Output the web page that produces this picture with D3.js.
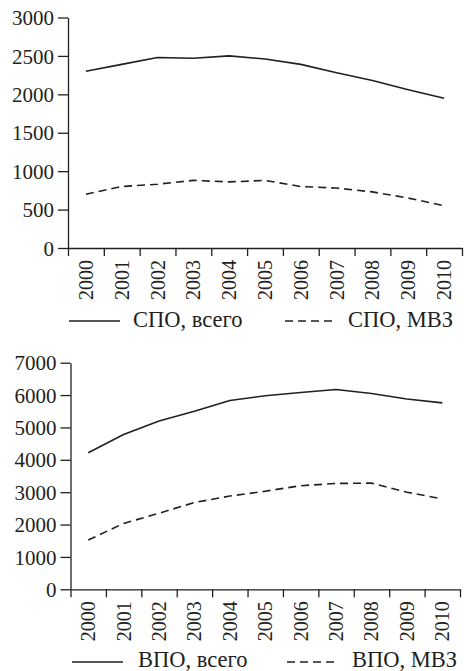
<!DOCTYPE html>
<html>
<head>
<meta charset="utf-8">
<script src="https://cdn.jsdelivr.net/npm/d3@7"></script>
<style>
body { margin: 0; background: #fff; }
</style>
</head>
<body>
<div id="chart"></div>
<script>
var width = 464
var height = 671

// data
var years = ["2000", "2001", "2002", "2003", "2004", "2005", "2006", "2007", "2008", "2009", "2010"]
var spoTotal = [2300, 2390, 2480, 2470, 2500, 2460, 2390, 2280, 2180, 2060, 1950]
var spoMvz = [700, 800, 830, 880, 860, 880, 800, 780, 730, 650, 550]
var vpoTotal = [4220, 4780, 5200, 5500, 5830, 5980, 6080, 6170, 6050, 5880, 5760]
var vpoMvz = [1520, 2035, 2350, 2680, 2880, 3030, 3200, 3270, 3280, 3000, 2790]
var spoTicks = [0, 500, 1000, 1500, 2000, 2500, 3000]
var vpoTicks = [0, 1000, 2000, 3000, 4000, 5000, 6000, 7000]

var ink = "#231f20"
var serif = "'Liberation Serif'"

var svg = d3.select("#chart")
    .append("svg")
    .attr("width", width)
    .attr("height", height)

function panel(opts) {
    var g = svg.append("g")

    var x = d3.scaleBand().domain(years).range([opts.x0, opts.x1])
    var xb = d3.scaleLinear().domain([0, years.length]).range([opts.x0, opts.x1])
    var y = d3.scaleLinear().domain([0, opts.ymax]).range([opts.y0, opts.y1])

    // y axis
    var ya = g.append("g")
        .attr("transform", "translate(" + opts.x0 + ",0)")
        .call(d3.axisLeft(y).tickValues(opts.ticks).tickFormat(d3.format("d")).tickSize(10).tickSizeOuter(0).tickPadding(4))
    ya.selectAll("text").style("font-size", "21px").style("font-family", serif).attr("fill", ink).attr("dy", "0.34em")

    // x axis: tick marks on band edges
    g.append("g")
        .attr("transform", "translate(0," + opts.y0 + ")")
        .call(d3.axisBottom(xb).tickValues(d3.range(years.length + 1)).tickSize(8).tickSizeOuter(0).tickFormat(""))

    // year labels in band centers
    g.selectAll(".yr")
        .data(years)
        .enter().append("text")
        .attr("transform", function(d) { return "translate(" + (x(d) + x.bandwidth() / 2) + "," + (opts.y0 + 12) + ") rotate(-90)" })
        .attr("text-anchor", "end")
        .attr("dy", "0.35em")
        .attr("fill", ink)
        .style("font-size", "20px")
        .style("font-family", serif)
        .text(function(d) { return d })

    svg.selectAll(".domain, .tick line").attr("stroke", ink).attr("stroke-width", 1.3)

    var line = d3.line()
        .x(function(d, i) { return x(years[i]) + x.bandwidth() / 2 })
        .y(function(d) { return y(d) })

    g.append("path").datum(opts.total)
        .attr("d", line).attr("fill", "none").attr("stroke", ink).attr("stroke-width", 1.6)
        .attr("stroke-linejoin", "round")
    g.append("path").datum(opts.mvz)
        .attr("d", line).attr("fill", "none").attr("stroke", ink).attr("stroke-width", 1.6)
        .attr("stroke-dasharray", "8,5")

    // legend
    var ly = opts.ly
    g.append("line").attr("x1", opts.lx[0]).attr("x2", opts.lx[0] + 51).attr("y1", ly).attr("y2", ly)
        .attr("stroke", ink).attr("stroke-width", 1.6)
    g.append("text").attr("x", opts.lx[1]).attr("y", opts.tb).attr("fill", ink)
        .style("font-size", "22.5px").style("font-family", serif).text(opts.names[0])
    g.append("line").attr("x1", opts.lx[2]).attr("x2", opts.lx[2] + 50).attr("y1", ly).attr("y2", ly)
        .attr("stroke", ink).attr("stroke-width", 1.6).attr("stroke-dasharray", "8,5")
    g.append("text").attr("x", opts.lx[3]).attr("y", opts.tb).attr("fill", ink)
        .style("font-size", "22.5px").style("font-family", serif).text(opts.names[1])
}

panel({
    x0: 68, x1: 462, y0: 248, y1: 17.5, ymax: 3000, ticks: spoTicks,
    total: spoTotal, mvz: spoMvz,
    ly: 321, tb: 327, lx: [69, 133, 285, 348], names: ["СПО, всего", "СПО, МВЗ"]
})

panel({
    x0: 70.5, x1: 460, y0: 589.3, y1: 362.7, ymax: 7000, ticks: vpoTicks,
    total: vpoTotal, mvz: vpoMvz,
    ly: 662, tb: 667, lx: [72, 138, 287, 352], names: ["ВПО, всего", "ВПО, МВЗ"]
})
</script>
</body>
</html>
